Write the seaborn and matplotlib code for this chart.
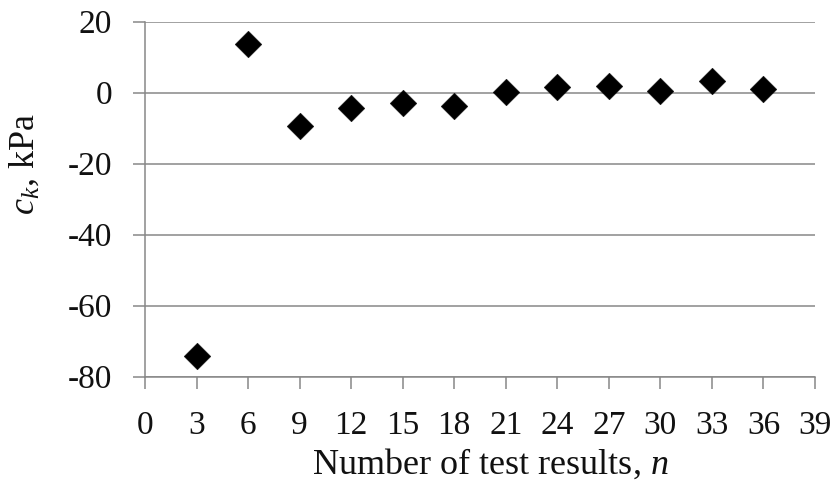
import matplotlib
matplotlib.use("Agg")
import matplotlib.pyplot as plt
import seaborn as sns
import pandas as pd

# Data
n_tests = [3, 6, 9, 12, 15, 18, 21, 24, 27, 30, 33, 36]
ck_kpa = [-74.3, 13.8, -9.5, -4.4, -2.8, -3.7, 0.3, 1.7, 1.9, 0.5, 3.3, 0.9]
x_ticks = [0, 3, 6, 9, 12, 15, 18, 21, 24, 27, 30, 33, 36, 39]
y_ticks = [-80, -60, -40, -20, 0, 20]

df = pd.DataFrame({"n": n_tests, "ck": ck_kpa})

sns.set_style("white")
plt.rcParams["font.family"] = ["Liberation Serif", "DejaVu Serif"]
plt.rcParams["mathtext.fontset"] = "custom"
plt.rcParams["mathtext.rm"] = "Liberation Serif"
plt.rcParams["mathtext.it"] = "Liberation Serif:italic"

grey = "#878787"

fig = plt.figure(figsize=(8.36, 4.84), dpi=100)
ax = fig.add_axes([145 / 836, 1 - 376.5 / 484, 670 / 836, 354.8 / 484])

sns.scatterplot(data=df, x="n", y="ck", marker="D", color="black",
                s=185, edgecolor="black", linewidth=0.3, ax=ax, zorder=3)

ax.set_xlim(0, 39)
ax.set_ylim(-80, 20)
ax.set_xticks(x_ticks)
ax.set_yticks(y_ticks)
ax.set_xticklabels([str(v) for v in x_ticks])
ax.set_yticklabels([str(v) for v in y_ticks])

ax.yaxis.grid(True, color=grey, linewidth=1.1)
ax.xaxis.grid(False)
ax.set_axisbelow(True)

for side in ["top", "right"]:
    ax.spines[side].set_visible(False)
for side in ["left", "bottom"]:
    ax.spines[side].set_color(grey)
    ax.spines[side].set_linewidth(1.1)

ax.tick_params(axis="both", which="major", direction="out", length=8.5,
               width=1.1, color=grey, labelsize=24, labelcolor="#111111",
               bottom=True, left=True)
ax.tick_params(axis="y", pad=15)
ax.tick_params(axis="x", pad=16)

ax.set_xlabel("Number of test results, $\\mathit{n}$", fontsize=26, color="#111111")
ax.set_ylabel("$\\mathit{c_k}$, kPa", fontsize=26, color="#111111")
ax.xaxis.set_label_coords(0.515, -0.199)
ax.yaxis.set_label_coords(-0.154, 0.600)

fig.savefig("out.png", dpi=100, facecolor="white")
